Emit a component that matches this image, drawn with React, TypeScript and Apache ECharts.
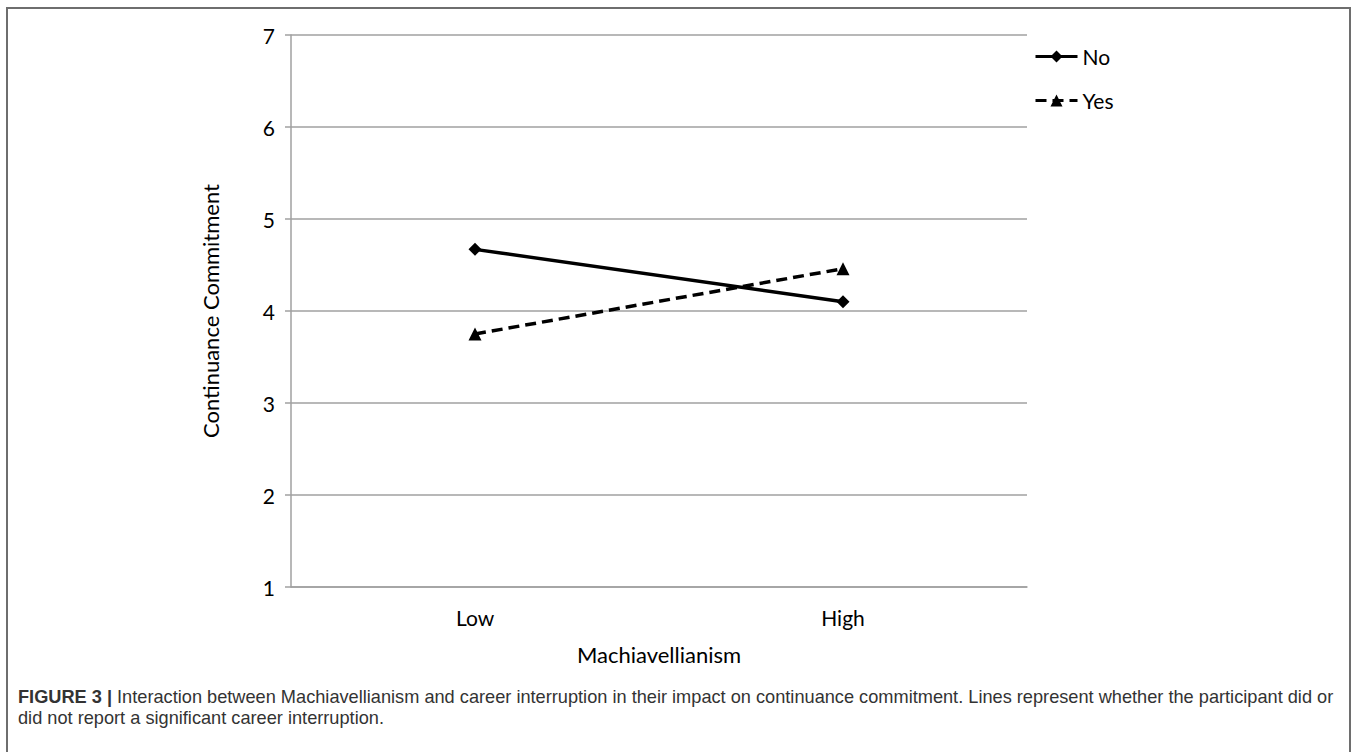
import React, { useEffect, useRef } from "react";
import * as echarts from "echarts";

const categories = ["Low", "High"];
const seriesNames = ["No", "Yes"];
const noValues = [4.67, 4.1];
const yesValues = [3.75, 4.46];
const yTicks = [1, 2, 3, 4, 5, 6, 7];
const xAxisTitle = "Machiavellianism";
const yAxisTitle = "Continuance Commitment";
const captionBold = "FIGURE 3 |";
const captionLine1 =
  " Interaction between Machiavellianism and career interruption in their impact on continuance commitment. Lines represent whether the participant did or";
const captionLine2 = "did not report a significant career interruption.";

const chartFont = "Lato, 'Open Sans', sans-serif";
const captionFont = "'Liberation Sans', Arial, sans-serif";

export default function App() {
  const ref = useRef<HTMLDivElement>(null);
  useEffect(() => {
    if (!ref.current) return;
    const chart = echarts.init(ref.current, null, { renderer: "svg" });
    chart.setOption({
      animation: false,
      backgroundColor: "#ffffff",
      grid: { left: 291, top: 35, width: 736, height: 552, containLabel: false },
      legend: {
        orient: "vertical",
        left: 1029,
        top: 41,
        itemGap: 23,
        itemWidth: 42,
        itemHeight: 15,
        data: seriesNames,
        lineStyle: { width: 3 },
        textStyle: { fontFamily: chartFont, fontSize: 21, color: "#000" },
      },
      xAxis: {
        type: "category",
        data: categories,
        boundaryGap: true,
        name: xAxisTitle,
        nameLocation: "middle",
        nameGap: 56,
        nameTextStyle: { fontFamily: chartFont, fontSize: 22, color: "#000" },
        axisLine: { lineStyle: { color: "#a0a0a0", width: 1.5 } },
        axisTick: { show: false },
        axisLabel: { fontFamily: chartFont, fontSize: 21, color: "#000", margin: 20 },
      },
      yAxis: {
        type: "value",
        min: yTicks[0],
        max: yTicks[yTicks.length - 1],
        interval: 1,
        name: yAxisTitle,
        nameLocation: "middle",
        nameGap: 70,
        nameRotate: 90,
        nameTextStyle: { fontFamily: chartFont, fontSize: 22, color: "#000" },
        axisLine: { show: true, lineStyle: { color: "#a0a0a0", width: 1.5 } },
        axisTick: { show: true, length: 6, lineStyle: { color: "#a0a0a0", width: 1.5 } },
        axisLabel: { fontFamily: chartFont, fontSize: 21, color: "#000", margin: 16 },
        splitLine: { show: true, lineStyle: { color: "#a0a0a0", width: 1.5 } },
      },
      series: [
        {
          name: seriesNames[0],
          type: "line",
          data: noValues,
          symbol: "diamond",
          symbolSize: 13,
          lineStyle: { color: "#000", width: 3.5, type: "solid" },
          itemStyle: { color: "#000" },
        },
        {
          name: seriesNames[1],
          type: "line",
          data: yesValues,
          symbol: "triangle",
          symbolSize: 13,
          lineStyle: { color: "#000", width: 3.5, type: [11, 6] },
          itemStyle: { color: "#000" },
        },
      ],
      graphic: [
        {
          type: "rect",
          shape: { x: 7, y: 8, width: 1343, height: 770 },
          style: { fill: "none", stroke: "#6e6e6e", lineWidth: 2 },
          silent: true,
        },
        {
          type: "text",
          x: 18,
          y: 697,
          style: {
            text: "{b|" + captionBold + "}" + captionLine1,
            fontFamily: captionFont,
            fontSize: 18.2,
            fill: "#333",
            verticalAlign: "middle",
            rich: {
              b: { fontFamily: captionFont, fontSize: 18.2, fontWeight: "bold", fill: "#333" },
            },
          },
        },
        {
          type: "text",
          x: 18,
          y: 718,
          style: {
            text: captionLine2,
            fontFamily: captionFont,
            fontSize: 18.2,
            fill: "#333",
            verticalAlign: "middle",
          },
        },
      ],
    });
    return () => chart.dispose();
  }, []);
  return (
    <div
      ref={ref}
      style={{ position: "absolute", left: 0, top: 0, width: 1358, height: 752 }}
    />
  );
}
